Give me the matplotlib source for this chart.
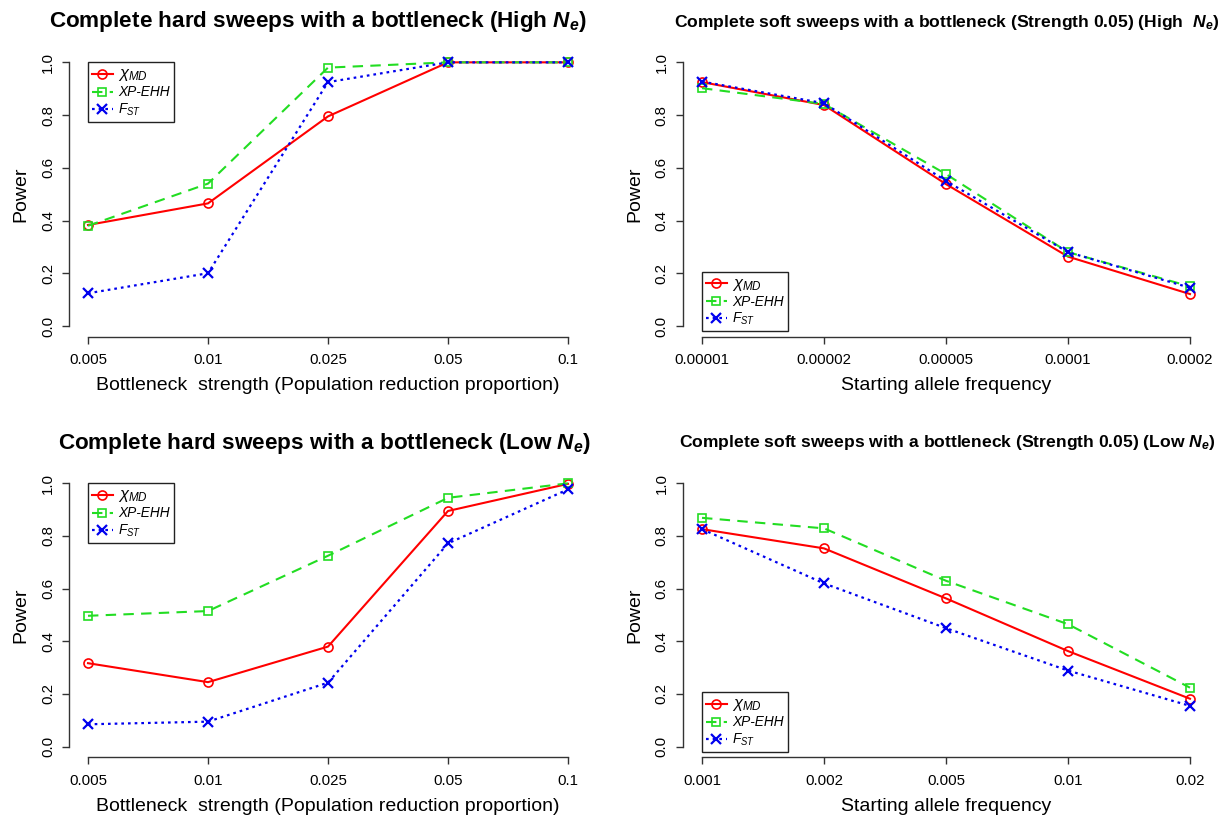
import matplotlib
matplotlib.use('Agg')
import matplotlib.pyplot as plt

plt.rcParams['font.family'] = ['Liberation Sans', 'DejaVu Sans']
plt.rcParams['mathtext.fontset'] = 'custom'
plt.rcParams['mathtext.rm'] = 'Liberation Sans'
plt.rcParams['mathtext.it'] = 'Liberation Sans:italic'
plt.rcParams['mathtext.bf'] = 'Liberation Sans:bold:italic'

# data
bottleneck = ['0.005', '0.01', '0.025', '0.05', '0.1']
freq_high = ['0.00001', '0.00002', '0.00005', '0.0001', '0.0002']
freq_low = ['0.001', '0.002', '0.005', '0.01', '0.02']

hard_high_chi = [0.383, 0.465, 0.795, 1.0, 1.0]
hard_high_xpehh = [0.38, 0.54, 0.98, 1.0, 1.0]
hard_high_fst = [0.124, 0.20, 0.925, 1.0, 1.0]

soft_high_chi = [0.925, 0.838, 0.538, 0.263, 0.121]
soft_high_xpehh = [0.902, 0.842, 0.576, 0.280, 0.150]
soft_high_fst = [0.927, 0.845, 0.550, 0.280, 0.145]

hard_low_chi = [0.317, 0.245, 0.380, 0.895, 0.998]
hard_low_xpehh = [0.497, 0.515, 0.725, 0.945, 1.0]
hard_low_fst = [0.085, 0.095, 0.243, 0.772, 0.977]

soft_low_chi = [0.826, 0.753, 0.563, 0.363, 0.182]
soft_low_xpehh = [0.869, 0.829, 0.630, 0.465, 0.224]
soft_low_fst = [0.826, 0.620, 0.450, 0.289, 0.155]

W, H = 1226, 818
fig = plt.figure(figsize=(W/100, H/100), dpi=100)

def px_axes(l, r, t, b):
    return fig.add_axes([l/W, 1-b/H, (r-l)/W, (b-t)/H])

panels = [
    (px_axes(68.8, 587.2, 51.8, 336.5), bottleneck, hard_high_chi, hard_high_xpehh, hard_high_fst,
     'Bottleneck  strength (Population reduction proportion)', 'upper left', (0, 1.0)),
    (px_axes(682.5, 1209.5, 51.8, 336.5), freq_high, soft_high_chi, soft_high_xpehh, soft_high_fst,
     'Starting allele frequency', 'lower left', (0, -0.02)),
    (px_axes(68.8, 587.2, 472.8, 757.2), bottleneck, hard_low_chi, hard_low_xpehh, hard_low_fst,
     'Bottleneck  strength (Population reduction proportion)', 'upper left', (0, 1.0)),
    (px_axes(682.5, 1209.5, 472.8, 757.2), freq_low, soft_low_chi, soft_low_xpehh, soft_low_fst,
     'Starting allele frequency', 'lower left', (0, -0.02)),
]

axcol = '#333333'
for ax, labels, chi, xp, fst, xlab, lloc, lanchor in panels:
    x = list(range(len(labels)))
    ax.plot(x, chi, color='#FF0000', lw=1.5, marker='o', ms=6.5, mfc='none', mew=1.2,
            label=r'$\chi_{MD}$')
    ax.plot(x, xp, color='#22DD22', lw=1.5, ls=(0, (5, 3.5)), marker='s', ms=6, mfc='none', mew=1.2,
            label='XP-EHH')
    ax.plot(x, fst, color='#0000EE', lw=1.6, ls=(0, (1.2, 1.8)), marker='x', ms=7, mew=1.6,
            label=r'$F_{ST}$')
    ax.set_xlim(-0.16, len(labels) - 1 + 0.16)
    ax.set_ylim(-0.04, 1.04)
    ax.set_xticks(x)
    ax.set_xticklabels(labels)
    ax.set_yticks([0, 0.2, 0.4, 0.6, 0.8, 1.0])
    ax.set_yticklabels(['0.0', '0.2', '0.4', '0.6', '0.8', '1.0'], rotation=90, va='center')
    for s in ['top', 'right']:
        ax.spines[s].set_visible(False)
    ax.spines['left'].set_bounds(0, 1)
    ax.spines['bottom'].set_bounds(0, len(labels) - 1)
    for s in ['left', 'bottom']:
        ax.spines[s].set_color(axcol)
        ax.spines[s].set_linewidth(1.0)
    ax.tick_params(direction='out', length=5, width=1.0, color=axcol, labelsize=10.8, pad=5)
    ax.tick_params(axis='x', pad=7)
    ax.set_xlabel(xlab, fontsize=14, labelpad=7)
    ax.set_ylabel('Power', fontsize=14, labelpad=8)
    leg = ax.legend(loc=lloc, bbox_to_anchor=lanchor, bbox_transform=ax.transData,
                    borderaxespad=0, fancybox=False, framealpha=1, edgecolor='#222222',
                    fontsize=9.8, handlelength=1.5, handletextpad=0.4, labelspacing=0.15,
                    borderpad=0.3)
    leg.get_frame().set_linewidth(1.0)
    leg.get_texts()[0].set_fontsize(12)
    leg.get_texts()[1].set_style('italic')

fig.text(318/W, 1-22/H, r'Complete hard sweeps with a bottleneck (High $\mathbf{N_e}$)',
         ha='center', va='center', fontsize=16.2, fontweight='bold')
fig.text(947/W, 1-22/H, r'Complete soft sweeps with a bottleneck (Strength 0.05) (High  $\mathbf{N_e}$)',
         ha='center', va='center', fontsize=12.6, fontweight='bold')
fig.text(325/W, 1-443/H, r'Complete hard sweeps with a bottleneck (Low $\mathbf{N_e}$)',
         ha='center', va='center', fontsize=16.2, fontweight='bold')
fig.text(947/W, 1-443/H, r'Complete soft sweeps with a bottleneck (Strength 0.05) (Low $\mathbf{N_e}$)',
         ha='center', va='center', fontsize=12.6, fontweight='bold')

fig.savefig('out.png', dpi=100)
